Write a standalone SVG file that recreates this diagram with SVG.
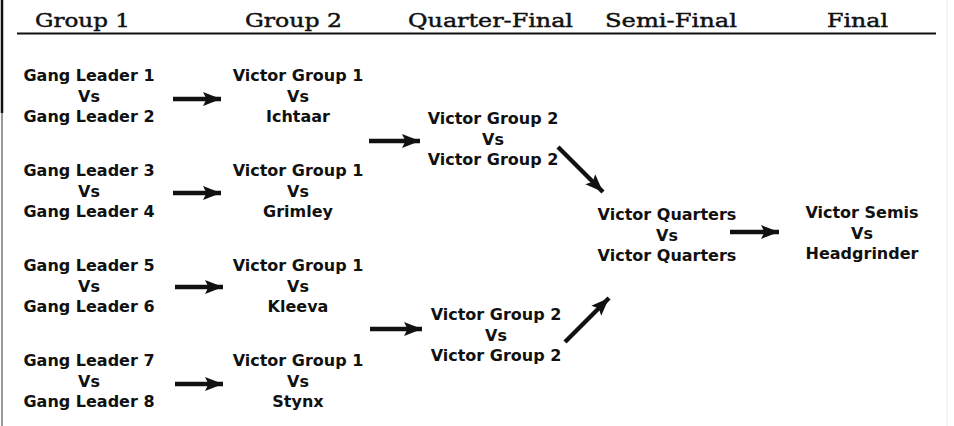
<svg xmlns="http://www.w3.org/2000/svg" width="954" height="426" viewBox="0 0 954 426">
<style>
  .hdr { font-family: "DejaVu Serif", "Liberation Serif", serif; font-size: 19px; fill: #111; stroke: #111; stroke-width: 0.45; }
  .t { font-family: "DejaVu Sans", "Liberation Sans", sans-serif; font-weight: bold; font-size: 16px; fill: #111; text-anchor: middle; }
  .arr { stroke: #111; stroke-width: 4.5; fill: none; marker-end: url(#ah); }
</style>
<defs>
  <marker id="ah" markerUnits="userSpaceOnUse" markerWidth="19" markerHeight="15" viewBox="0 0 19 15" refX="18" refY="7.5" orient="auto">
    <path d="M0,0.5 L18,7.5 L0,14.5 L3.5,7.5 Z" fill="#111"/>
  </marker>
</defs>
<rect width="954" height="426" fill="#fff"/>
<g id="frame">
  <line x1="2" y1="0" x2="2" y2="113" stroke="#111" stroke-width="2.5"/>
  <line x1="2" y1="113" x2="2" y2="426" stroke="#555" stroke-width="1.2"/>
  <line x1="947" y1="0" x2="947" y2="426" stroke="#ececec" stroke-width="1"/>
</g>
<g id="header">
  <text class="hdr" x="35" y="27" textLength="95" lengthAdjust="spacingAndGlyphs">Group 1</text>
  <text class="hdr" x="245" y="27" textLength="97" lengthAdjust="spacingAndGlyphs">Group 2</text>
  <text class="hdr" x="408" y="27" textLength="165" lengthAdjust="spacingAndGlyphs">Quarter-Final</text>
  <text class="hdr" x="605" y="27" textLength="132" lengthAdjust="spacingAndGlyphs">Semi-Final</text>
  <text class="hdr" x="827" y="27" textLength="61" lengthAdjust="spacingAndGlyphs">Final</text>
  <line x1="17" y1="33.5" x2="936" y2="33.5" stroke="#111" stroke-width="2"/>
</g>
<g id="g1m1"><text class="t" x="89" y="81">Gang Leader 1</text><text class="t" x="89" y="101.5">Vs</text><text class="t" x="89" y="122">Gang Leader 2</text></g>
<g id="g1m2"><text class="t" x="89" y="176">Gang Leader 3</text><text class="t" x="89" y="196.5">Vs</text><text class="t" x="89" y="217">Gang Leader 4</text></g>
<g id="g1m3"><text class="t" x="89" y="271">Gang Leader 5</text><text class="t" x="89" y="291.5">Vs</text><text class="t" x="89" y="312">Gang Leader 6</text></g>
<g id="g1m4"><text class="t" x="89" y="366">Gang Leader 7</text><text class="t" x="89" y="386.5">Vs</text><text class="t" x="89" y="407">Gang Leader 8</text></g>
<g id="g2m1"><text class="t" x="298" y="81">Victor Group 1</text><text class="t" x="298" y="101.5">Vs</text><text class="t" x="298" y="122">Ichtaar</text></g>
<g id="g2m2"><text class="t" x="298" y="176">Victor Group 1</text><text class="t" x="298" y="196.5">Vs</text><text class="t" x="298" y="217">Grimley</text></g>
<g id="g2m3"><text class="t" x="298" y="271">Victor Group 1</text><text class="t" x="298" y="291.5">Vs</text><text class="t" x="298" y="312">Kleeva</text></g>
<g id="g2m4"><text class="t" x="298" y="366">Victor Group 1</text><text class="t" x="298" y="386.5">Vs</text><text class="t" x="298" y="407">Stynx</text></g>
<g id="qf1"><text class="t" x="493" y="124">Victor Group 2</text><text class="t" x="493" y="144.5">Vs</text><text class="t" x="493" y="165">Victor Group 2</text></g>
<g id="qf2"><text class="t" x="496" y="320">Victor Group 2</text><text class="t" x="496" y="340.5">Vs</text><text class="t" x="496" y="361">Victor Group 2</text></g>
<g id="sf"><text class="t" x="667" y="220">Victor Quarters</text><text class="t" x="667" y="240.5">Vs</text><text class="t" x="667" y="261">Victor Quarters</text></g>
<g id="final"><text class="t" x="862" y="218">Victor Semis</text><text class="t" x="862" y="238.5">Vs</text><text class="t" x="862" y="259">Headgrinder</text></g>
<g id="connectors">
  <line class="arr" x1="173" y1="99" x2="221" y2="99"/>
  <line class="arr" x1="173" y1="193" x2="221" y2="193"/>
  <line class="arr" x1="175" y1="287" x2="223" y2="287"/>
  <line class="arr" x1="175" y1="384" x2="223" y2="384"/>
  <line class="arr" x1="369" y1="141" x2="420" y2="141"/>
  <line class="arr" x1="370" y1="329" x2="422" y2="329"/>
  <line class="arr" x1="558" y1="147" x2="603" y2="192"/>
  <line class="arr" x1="565" y1="342" x2="609" y2="298"/>
  <line class="arr" x1="730" y1="232" x2="779" y2="232"/>
</g>
</svg>
